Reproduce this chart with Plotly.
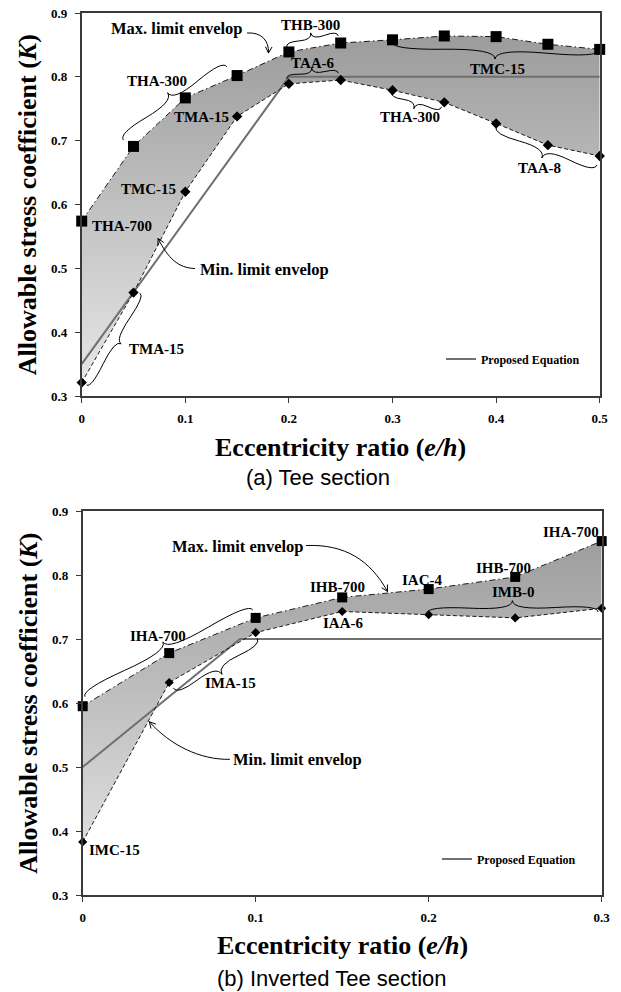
import math
import plotly.graph_objects as go

W, H = 621, 992

# ---------------- data ----------------
# (a) Tee section
tee_e = [0, 0.05, 0.1, 0.15, 0.2, 0.25, 0.3, 0.35, 0.4, 0.45, 0.5]
tee_max = [0.574, 0.691, 0.767, 0.802, 0.839, 0.853, 0.858, 0.864, 0.863, 0.851, 0.843]
tee_min = [0.321, 0.462, 0.620, 0.738, 0.789, 0.795, 0.779, 0.760, 0.727, 0.693, 0.676]
tee_eq_e = [0, 0.2, 0.5]
tee_eq_k = [0.35, 0.8, 0.8]
tee_e_ticks = [0, 0.1, 0.2, 0.3, 0.4, 0.5]

# (b) Inverted Tee section
inv_e = [0, 0.05, 0.1, 0.15, 0.2, 0.25, 0.3]
inv_max = [0.595, 0.678, 0.733, 0.765, 0.778, 0.797, 0.853]
inv_min = [0.383, 0.632, 0.710, 0.743, 0.738, 0.733, 0.748]
inv_eq_e = [0, 0.0909, 0.3]
inv_eq_k = [0.5, 0.7, 0.7]
inv_e_ticks = [0, 0.1, 0.2, 0.3]

k_ticks = [0.3, 0.4, 0.5, 0.6, 0.7, 0.8, 0.9]

SERIF = "Liberation Serif"
SANS = "Liberation Sans"

# ---------------- panel geometry (screen pixels) ----------------
PANELS = {
    "top": dict(xa="x", ya="y", px=(81.7, 599.7), py=(396.0, 13.0), xr=(0.0, 0.5), yr=(0.3, 0.9)),
    "bot": dict(xa="x2", ya="y2", px=(82.7, 601.7), py=(895.0, 511.0), xr=(0.0, 0.3), yr=(0.3, 0.9)),
}


def to_px(p, e, k):
    g = PANELS[p]
    X = g["px"][0] + (e - g["xr"][0]) / (g["xr"][1] - g["xr"][0]) * (g["px"][1] - g["px"][0])
    Y = g["py"][0] + (k - g["yr"][0]) / (g["yr"][1] - g["yr"][0]) * (g["py"][1] - g["py"][0])
    return X, Y


def to_data(p, X, Y):
    g = PANELS[p]
    e = g["xr"][0] + (X - g["px"][0]) / (g["px"][1] - g["px"][0]) * (g["xr"][1] - g["xr"][0])
    k = g["yr"][0] + (Y - g["py"][0]) / (g["py"][1] - g["py"][0]) * (g["yr"][1] - g["yr"][0])
    return e, k


def path_str(p, cmds):
    out = []
    for c, pts in cmds:
        coords = " ".join("%.5f,%.5f" % to_data(p, *pt) for pt in pts)
        out.append(c + coords)
    return " ".join(out)


def brace(p, a, b, depth, toward, q=0.6):
    """Curly brace between data points a and b, bulging towards `toward`."""
    x1, y1 = to_px(p, *a)
    x2, y2 = to_px(p, *b)
    dx, dy = x1 - x2, y1 - y2
    L = math.hypot(dx, dy)
    dx, dy = dx / L, dy / L
    tx, ty = to_px(p, *toward)
    mx, my = (x1 + x2) / 2, (y1 + y2) / 2
    nx, ny = dy, -dx
    if (tx - mx) * nx + (ty - my) * ny < 0:
        nx, ny = -nx, -ny
    w = depth
    q1 = (x1 + q * w * nx, y1 + q * w * ny)
    q2 = (x1 - .25 * L * dx + (1 - q) * w * nx, y1 - .25 * L * dy + (1 - q) * w * ny)
    tip = (x1 - .5 * L * dx + w * nx, y1 - .5 * L * dy + w * ny)
    c1 = (2 * q2[0] - q1[0], 2 * q2[1] - q1[1])
    q3 = (x2 + q * w * nx, y2 + q * w * ny)
    q4 = (x1 - .75 * L * dx + (1 - q) * w * nx, y1 - .75 * L * dy + (1 - q) * w * ny)
    c2 = (2 * q4[0] - q3[0], 2 * q4[1] - q3[1])
    cmds = [("M", [(x1, y1)]), ("Q", [q1, q2]), ("Q", [c1, tip]),
            ("M", [(x2, y2)]), ("Q", [q3, q4]), ("Q", [c2, tip])]
    g = PANELS[p]
    return dict(type="path", xref=g["xa"], yref=g["ya"], path=path_str(p, cmds),
                line=dict(color="black", width=1))


def curved_arrow(p, pts, head=7.0, ang=28):
    """Cubic curve through four data points with an open arrowhead at the end."""
    P = [to_px(p, *pt) for pt in pts]
    ux, uy = P[3][0] - P[2][0], P[3][1] - P[2][1]
    n = math.hypot(ux, uy)
    ux, uy = ux / n, uy / n
    heads = []
    for s in (1, -1):
        a = math.radians(ang) * s
        rx = ux * math.cos(a) - uy * math.sin(a)
        ry = ux * math.sin(a) + uy * math.cos(a)
        heads.append((P[3][0] - head * rx, P[3][1] - head * ry))
    cmds = [("M", [P[0]]), ("C", [P[1], P[2], P[3]]),
            ("M", [heads[0]]), ("L", [P[3]]), ("L", [heads[1]])]
    g = PANELS[p]
    return dict(type="path", xref=g["xa"], yref=g["ya"], path=path_str(p, cmds),
                line=dict(color="black", width=1))


fig = go.Figure()

GRAD = dict(type="vertical", start=0.3, stop=0.9,
            colorscale=[[0, "#e9e9e9"], [1, "#979797"]])
MAX_DASH = "6px,3px,1.5px,3px"
MIN_DASH = "4px,2.5px"


def add_panel(xa, ya, e, kmax, kmin, eq_e, eq_k, legend, sq, dm):
    fig.add_trace(go.Scatter(x=e, y=kmin, xaxis=xa, yaxis=ya, mode="lines",
                             line=dict(width=0), showlegend=False, hoverinfo="skip"))
    fig.add_trace(go.Scatter(x=e, y=kmax, xaxis=xa, yaxis=ya, mode="lines",
                             line=dict(width=0), fill="tonexty", fillgradient=GRAD,
                             showlegend=False, hoverinfo="skip"))
    fig.add_trace(go.Scatter(x=eq_e, y=eq_k, xaxis=xa, yaxis=ya, mode="lines",
                             name="Proposed Equation", legend=legend,
                             line=dict(color="#707070", width=2)))
    fig.add_trace(go.Scatter(x=e, y=kmin, xaxis=xa, yaxis=ya, mode="lines+markers",
                             line=dict(color="#1a1a1a", width=1, dash=MIN_DASH),
                             marker=dict(symbol="diamond", size=dm, color="black"),
                             cliponaxis=False, showlegend=False, name="Min. limit envelop"))
    fig.add_trace(go.Scatter(x=e, y=kmax, xaxis=xa, yaxis=ya, mode="lines+markers",
                             line=dict(color="#1a1a1a", width=1, dash=MAX_DASH),
                             marker=dict(symbol="square", size=sq, color="black"),
                             cliponaxis=False, showlegend=False, name="Max. limit envelop"))


add_panel("x", "y", tee_e, tee_max, tee_min, tee_eq_e, tee_eq_k, "legend", 11, 8)
add_panel("x2", "y2", inv_e, inv_max, inv_min, inv_eq_e, inv_eq_k, "legend2", 10, 7)

# ---------------- axes ----------------
AX = dict(showgrid=False, zeroline=False, showline=True, mirror=True,
          linecolor="#3a3a3a", linewidth=1.5, ticks="outside", ticklen=5,
          tickcolor="#3a3a3a", tickfont=dict(family=SERIF, size=13, color="black", weight="bold"),
          automargin=False, ticklabelstandoff=5)

layout_axes = {}
for key, (xname, yname, e_ticks) in {"top": ("xaxis", "yaxis", tee_e_ticks),
                                     "bot": ("xaxis2", "yaxis2", inv_e_ticks)}.items():
    g = PANELS[key]
    xdom = [g["px"][0] / W, g["px"][1] / W]
    ydom = [1 - g["py"][0] / H, 1 - g["py"][1] / H]
    layout_axes[xname] = dict(AX, domain=xdom, range=list(g["xr"]), anchor=g["ya"],
                              tickvals=e_ticks, ticktext=["%g" % v for v in e_ticks])
    layout_axes[yname] = dict(AX, domain=ydom, range=list(g["yr"]), anchor=g["xa"],
                              tickvals=k_ticks, ticktext=["%g" % v for v in k_ticks])

# ---------------- labels ----------------
LBL = dict(family=SERIF, size=15, color="black")
annotations = []


def label(p, text, e, k, size=15, xanchor="center"):
    g = PANELS[p]
    annotations.append(dict(xref=g["xa"], yref=g["ya"], x=e, y=k, text="<b>%s</b>" % text,
                            showarrow=False, xanchor=xanchor, yanchor="middle",
                            font=dict(LBL, size=size)))


label("top", "Max. limit envelop", 0.0917, 0.876, size=16.5)
label("top", "THA-300", 0.0724, 0.7935)
label("top", "THA-700", 0.008, 0.566, xanchor="left")
label("top", "TMC-15", 0.093, 0.6238, xanchor="right")
label("top", "TMA-15", 0.144, 0.7375, xanchor="right")
label("top", "TMA-15", 0.0437, 0.3736, xanchor="left")
label("top", "THB-300", 0.2204, 0.8812)
label("top", "TAA-6", 0.2236, 0.8221)
label("top", "TMC-15", 0.4018, 0.8118)
label("top", "THA-300", 0.3169, 0.7366)
label("top", "TAA-8", 0.4419, 0.6567)
label("top", "Min. limit envelop", 0.1119, 0.4974, size=16.5, xanchor="left")

label("bot", "Max. limit envelop", 0.0895, 0.8453, size=16.5)
label("bot", "IHA-700", 0.2823, 0.8677)
label("bot", "IHB-700", 0.2435, 0.8114)
label("bot", "IAC-4", 0.196, 0.7922)
label("bot", "IHB-700", 0.1472, 0.7808)
label("bot", "IAA-6", 0.1506, 0.7255)
label("bot", "IMB-0", 0.2492, 0.773)
label("bot", "IHA-700", 0.0437, 0.7047)
label("bot", "IMA-15", 0.0855, 0.6308)
label("bot", "IMC-15", 0.0023, 0.3703, xanchor="left")
label("bot", "Min. limit envelop", 0.0857, 0.512, size=16.5, xanchor="left")

# axis titles and captions
for p, cap, cap_x, title_y, cap_y in [("top", "(a) Tee section", 317.6, 447, 477),
                                      ("bot", "(b) Inverted Tee section", 332, 945, 978)]:
    g = PANELS[p]
    cx = (g["px"][0] + g["px"][1]) / 2 / W
    cy = 1 - (g["py"][0] + g["py"][1]) / 2 / H
    annotations.append(dict(xref="paper", yref="paper", x=cx, y=1 - title_y / H,
                            text="<b>Eccentricity ratio (<i>e/h</i>)</b>", showarrow=False,
                            xanchor="center", yanchor="middle",
                            font=dict(family=SERIF, size=26, color="black")))
    annotations.append(dict(xref="paper", yref="paper", x=27.7 / W, y=cy,
                            text="<b>Allowable stress coefficient (<i>K</i>)</b>", showarrow=False,
                            textangle=-90, xanchor="center", yanchor="middle",
                            font=dict(family=SERIF, size=26, color="black")))
    annotations.append(dict(xref="paper", yref="paper", x=cap_x / W, y=1 - cap_y / H,
                            text=cap, showarrow=False, xanchor="center", yanchor="middle",
                            font=dict(family=SANS, size=22, color="black")))

# ---------------- braces and arrows ----------------
shapes = [
    brace("top", (0.0402, 0.7010), (0.1400, 0.8159), 13, (0.0724, 0.7935)),
    brace("top", (0.0048, 0.3172), (0.0563, 0.4609), 9, (0.0691, 0.3736)),
    brace("top", (0.1979, 0.8463), (0.2477, 0.8640), 9, (0.2204, 0.8812)),
    brace("top", (0.1979, 0.7970), (0.2477, 0.8055), 8, (0.2236, 0.8221)),
    brace("top", (0.2995, 0.8545), (0.4993, 0.8420), 13, (0.4018, 0.8118)),
    brace("top", (0.2992, 0.7767), (0.3475, 0.7532), 10, (0.3169, 0.7366)),
    brace("top", (0.3999, 0.7219), (0.4974, 0.6619), 13, (0.4419, 0.6567)),
    brace("bot", (0.0013, 0.6098), (0.0983, 0.7453), 13, (0.0437, 0.7047)),
    brace("bot", (0.0524, 0.6230), (0.1009, 0.7011), 13, (0.0855, 0.6308)),
    brace("bot", (0.1990, 0.7402), (0.2979, 0.7422), 12, (0.2492, 0.7730)),
    curved_arrow("top", [(0.1596, 0.8687), (0.1740, 0.8702), (0.1808, 0.8561), (0.1803, 0.8373)]),
    curved_arrow("top", [(0.1094, 0.4997), (0.0930, 0.5005), (0.0833, 0.5161), (0.0737, 0.5467)]),
    curved_arrow("bot", [(0.1291, 0.8461), (0.1516, 0.8484), (0.1661, 0.8234), (0.1762, 0.7742)]),
    curved_arrow("bot", [(0.0851, 0.5120), (0.0678, 0.5109), (0.0505, 0.5344), (0.0385, 0.5708)]),
]

LEG = dict(bgcolor="rgba(0,0,0,0)", borderwidth=0, xanchor="left", yanchor="middle",
           itemwidth=30, font=dict(family=SERIF, size=12, color="black", weight="bold"))

fig.update_layout(
    width=W, height=H,
    margin=dict(l=0, r=0, t=0, b=0),
    paper_bgcolor="white", plot_bgcolor="white",
    annotations=annotations, shapes=shapes,
    legend=dict(LEG, x=441 / W, y=1 - 359 / H),
    legend2=dict(LEG, x=437 / W, y=1 - 859 / H),
    **layout_axes,
)

fig.write_html("out.html")
